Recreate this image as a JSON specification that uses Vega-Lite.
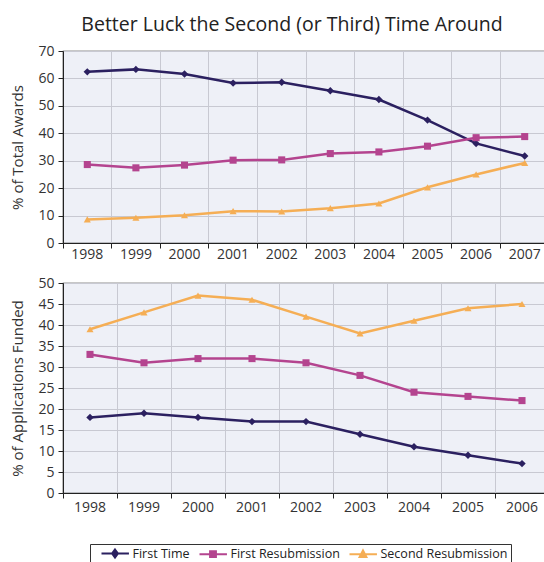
{
  "$schema": "https://vega.github.io/schema/vega-lite/v6.json",
  "padding": {"left": 10, "top": 14, "right": 0, "bottom": 0},
  "title": {"text": "Better Luck the Second (or Third) Time Around", "anchor": "middle", "dx": 12, "font": "Open Sans", "fontSize": 19.5, "fontWeight": "normal", "color": "#222", "offset": 8},
  "datasets": {
    "awards": [
      {"year": "1998", "series": "First Time", "value": 62.4},
      {"year": "1999", "series": "First Time", "value": 63.3},
      {"year": "2000", "series": "First Time", "value": 61.6},
      {"year": "2001", "series": "First Time", "value": 58.3},
      {"year": "2002", "series": "First Time", "value": 58.6},
      {"year": "2003", "series": "First Time", "value": 55.5},
      {"year": "2004", "series": "First Time", "value": 52.3},
      {"year": "2005", "series": "First Time", "value": 44.8},
      {"year": "2006", "series": "First Time", "value": 36.3},
      {"year": "2007", "series": "First Time", "value": 31.7},
      {"year": "1998", "series": "First Resubmission", "value": 28.6},
      {"year": "1999", "series": "First Resubmission", "value": 27.4},
      {"year": "2000", "series": "First Resubmission", "value": 28.4},
      {"year": "2001", "series": "First Resubmission", "value": 30.2},
      {"year": "2002", "series": "First Resubmission", "value": 30.3},
      {"year": "2003", "series": "First Resubmission", "value": 32.6},
      {"year": "2004", "series": "First Resubmission", "value": 33.2},
      {"year": "2005", "series": "First Resubmission", "value": 35.3},
      {"year": "2006", "series": "First Resubmission", "value": 38.4},
      {"year": "2007", "series": "First Resubmission", "value": 38.8},
      {"year": "1998", "series": "Second Resubmission", "value": 8.6},
      {"year": "1999", "series": "Second Resubmission", "value": 9.2},
      {"year": "2000", "series": "Second Resubmission", "value": 10.1},
      {"year": "2001", "series": "Second Resubmission", "value": 11.6},
      {"year": "2002", "series": "Second Resubmission", "value": 11.5},
      {"year": "2003", "series": "Second Resubmission", "value": 12.7},
      {"year": "2004", "series": "Second Resubmission", "value": 14.4},
      {"year": "2005", "series": "Second Resubmission", "value": 20.3},
      {"year": "2006", "series": "Second Resubmission", "value": 25.0},
      {"year": "2007", "series": "Second Resubmission", "value": 29.2}
    ],
    "funded": [
      {"year": "1998", "series": "First Time", "value": 18},
      {"year": "1999", "series": "First Time", "value": 19},
      {"year": "2000", "series": "First Time", "value": 18},
      {"year": "2001", "series": "First Time", "value": 17},
      {"year": "2002", "series": "First Time", "value": 17},
      {"year": "2003", "series": "First Time", "value": 14},
      {"year": "2004", "series": "First Time", "value": 11},
      {"year": "2005", "series": "First Time", "value": 9},
      {"year": "2006", "series": "First Time", "value": 7},
      {"year": "1998", "series": "First Resubmission", "value": 33},
      {"year": "1999", "series": "First Resubmission", "value": 31},
      {"year": "2000", "series": "First Resubmission", "value": 32},
      {"year": "2001", "series": "First Resubmission", "value": 32},
      {"year": "2002", "series": "First Resubmission", "value": 31},
      {"year": "2003", "series": "First Resubmission", "value": 28},
      {"year": "2004", "series": "First Resubmission", "value": 24},
      {"year": "2005", "series": "First Resubmission", "value": 23},
      {"year": "2006", "series": "First Resubmission", "value": 22},
      {"year": "1998", "series": "Second Resubmission", "value": 39},
      {"year": "1999", "series": "Second Resubmission", "value": 43},
      {"year": "2000", "series": "Second Resubmission", "value": 47},
      {"year": "2001", "series": "Second Resubmission", "value": 46},
      {"year": "2002", "series": "Second Resubmission", "value": 42},
      {"year": "2003", "series": "Second Resubmission", "value": 38},
      {"year": "2004", "series": "Second Resubmission", "value": 41},
      {"year": "2005", "series": "Second Resubmission", "value": 44},
      {"year": "2006", "series": "Second Resubmission", "value": 45}
    ]
  },
  "spacing": 13,
  "vconcat": [
    {
      "width": 486,
      "height": 192,
      "data": {"name": "awards"},
      "encoding": {
        "x": {"field": "year", "type": "ordinal", "scale": {"type": "band", "paddingInner": 0, "paddingOuter": 0}, "axis": {"title": null, "labelAngle": 0, "bandPosition": 0, "grid": true, "tickSize": 5, "labelPadding": -1}},
        "y": {"field": "value", "type": "quantitative", "scale": {"domain": [0, 70], "nice": false}, "axis": {"title": "% of Total Awards", "values": [0, 10, 20, 30, 40, 50, 60, 70], "tickSize": 5, "labelPadding": 4, "titlePadding": 12}},
        "color": {"field": "series", "type": "nominal", "scale": {"domain": ["First Time", "First Resubmission", "Second Resubmission"], "range": ["#2b2060", "#b4448f", "#f5ae55"]}}
      },
      "layer": [
        {"mark": {"type": "line", "strokeWidth": 2.5}},
        {"transform": [{"filter": "datum.series === 'First Time'"}], "mark": {"type": "point", "shape": "diamond", "filled": true, "size": 55, "opacity": 1}},
        {"transform": [{"filter": "datum.series === 'First Resubmission'"}], "mark": {"type": "point", "shape": "square", "filled": true, "size": 50, "opacity": 1}},
        {"transform": [{"filter": "datum.series === 'Second Resubmission'"}], "mark": {"type": "point", "shape": "triangle-up", "filled": true, "size": 50, "opacity": 1}}
      ]
    },
    {
      "width": 486,
      "height": 210,
      "data": {"name": "funded"},
      "encoding": {
        "x": {"field": "year", "type": "ordinal", "scale": {"type": "band", "paddingInner": 0, "paddingOuter": 0}, "axis": {"title": null, "labelAngle": 0, "bandPosition": 0, "grid": true, "tickSize": 5, "labelPadding": 2}},
        "y": {"field": "value", "type": "quantitative", "scale": {"domain": [0, 50], "nice": false}, "axis": {"title": "% of Applications Funded", "values": [0, 5, 10, 15, 20, 25, 30, 35, 40, 45, 50], "tickSize": 5, "labelPadding": 4, "titlePadding": 12}},
        "color": {"field": "series", "type": "nominal", "scale": {"domain": ["First Time", "First Resubmission", "Second Resubmission"], "range": ["#2b2060", "#b4448f", "#f5ae55"]},
          "legend": {"title": null, "orient": "none", "legendX": 27, "legendY": 493, "direction": "horizontal", "columns": 3, "columnPadding": 1, "symbolSize": 81, "symbolStrokeWidth": 2, "labelFont": "Open Sans", "labelFontSize": 12.5, "labelColor": "#222", "labelOffset": 27, "strokeColor": "#333", "padding": 3,
            "encode": {"symbols": {"update": {
              "shape": {"signal": "datum.value === 'First Time' ? 'M0.5,0L6.6,0M3.5,-0.9L4.15,0L3.5,0.9L2.85,0Z' : datum.value === 'First Resubmission' ? 'M0.5,0L6.6,0M2.85,-0.65L4.15,-0.65L4.15,0.65L2.85,0.65Z' : 'M0.5,0L6.6,0M3.5,-0.85L4.25,0.6L2.75,0.6Z'"},
              "stroke": {"signal": "scale('color', datum.value)"},
              "fill": {"signal": "scale('color', datum.value)"},
              "strokeWidth": {"value": 2},
              "opacity": {"value": 1}
            }}}}}
      },
      "layer": [
        {"mark": {"type": "line", "strokeWidth": 2.5}},
        {"transform": [{"filter": "datum.series === 'First Time'"}], "mark": {"type": "point", "shape": "diamond", "filled": true, "size": 55, "opacity": 1}},
        {"transform": [{"filter": "datum.series === 'First Resubmission'"}], "mark": {"type": "point", "shape": "square", "filled": true, "size": 50, "opacity": 1}},
        {"transform": [{"filter": "datum.series === 'Second Resubmission'"}], "mark": {"type": "point", "shape": "triangle-up", "filled": true, "size": 50, "opacity": 1}}
      ]
    }
  ],
  "config": {
    "view": {"fill": "#eef0f7", "stroke": "#222", "strokeWidth": 1.2},
    "axis": {"labelFont": "Open Sans", "labelFontSize": 14, "labelColor": "#333", "titleFont": "Open Sans", "titleFontSize": 15, "titleFontWeight": "normal", "titleColor": "#333", "domainColor": "#222", "tickColor": "#222", "gridColor": "#c8c9d2", "gridWidth": 1}
  }
}
